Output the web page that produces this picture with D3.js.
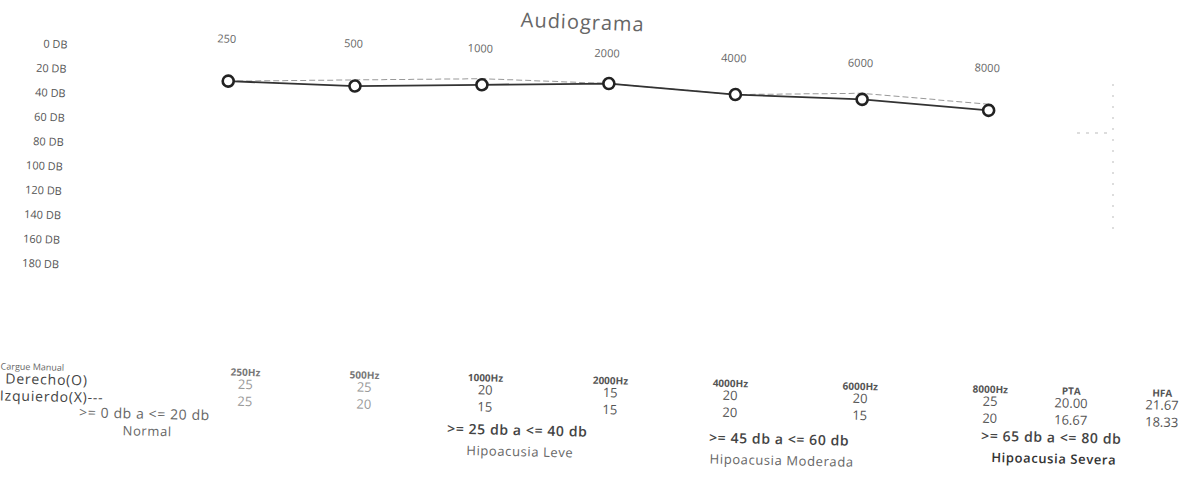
<!DOCTYPE html>
<html>
<head>
<meta charset="utf-8">
<script src="https://cdn.jsdelivr.net/npm/d3@7"></script>
<style>
  body { margin: 0; background: #fff; }
  svg { font-family: "Open Sans", "Noto Sans", sans-serif; }
</style>
</head>
<body>
<div id="chart" style="width:1185px;height:485px"></div>
<script>
// audiogram values (dB) per frequency
const frequencies = ["250", "500", "1000", "2000", "4000", "6000", "8000"];
const db_ticks = [0, 20, 40, 60, 80, 100, 120, 140, 160, 180];
const derecho = [25, 25, 20, 15, 20, 20, 25];
const izquierdo = [25, 20, 15, 15, 20, 15, 20];
const table_headers = ["250Hz", "500Hz", "1000Hz", "2000Hz", "4000Hz", "6000Hz", "8000Hz", "PTA", "HFA"];
const ranges = [">= 0 db a <= 20 db", ">= 25 db a <= 40 db", ">= 45 db a <= 60 db", ">= 65 db a <= 80 db"];
const range_names = ["Normal", "Hipoacusia Leve", "Hipoacusia Moderada", "Hipoacusia Severa"];

function audiogram(element_id) {
    const width = 1185, height = 485;
    d3.select(`#${element_id}`).selectAll("svg").remove();
    const svg = d3.select(`#${element_id}`)
        .append("svg")
        .attr("width", width)
        .attr("height", height);

    // the scanned sheet is a little tilted
    const chart = svg.append("g")
        .attr("transform", "rotate(2.2, 600, 250)");

    const x = d3.scalePoint()
        .domain(frequencies)
        .range([222, 983]);

    const y = d3.scaleLinear()
        .domain([0, 180])
        .range([65, 285]);

    chart.append("text")
        .attr("x", 574)
        .attr("y", 30)
        .attr("text-anchor", "middle")
        .attr("font-size", "20px")
        .attr("letter-spacing", "1px")
        .attr("fill", "#666")
        .text("Audiograma");

    chart.selectAll(".db-label")
        .data(db_ticks)
        .enter().append("text")
        .attr("class", "db-label")
        .attr("x", 60)
        .attr("y", d => y(d) + 4)
        .attr("text-anchor", "end")
        .attr("font-size", "11px")
        .attr("fill", "#555")
        .text(d => `${d} DB`);

    chart.selectAll(".freq-label")
        .data(frequencies)
        .enter().append("text")
        .attr("class", "freq-label")
        .attr("x", d => x(d) - 3)
        .attr("y", 57)
        .attr("text-anchor", "middle")
        .attr("font-size", "11px")
        .attr("fill", "#666")
        .text(d => d);

    const line = d3.line()
        .x((d, i) => x(frequencies[i]))
        .y(d => y(d));

    chart.append("path")
        .datum(izquierdo)
        .attr("fill", "none")
        .attr("stroke", "#999")
        .attr("stroke-width", 1)
        .attr("stroke-dasharray", "6,3")
        .attr("d", line);

    chart.append("path")
        .datum(derecho)
        .attr("fill", "none")
        .attr("stroke", "#333")
        .attr("stroke-width", 1.8)
        .attr("d", line);

    chart.selectAll(".dot")
        .data(derecho)
        .enter().append("circle")
        .attr("class", "dot")
        .attr("cx", (d, i) => x(frequencies[i]))
        .attr("cy", d => y(d))
        .attr("r", 5.5)
        .attr("fill", "#fff")
        .attr("stroke", "#222")
        .attr("stroke-width", 2.6);

    // faint dotted guide on the right edge of the scan
    svg.append("line")
        .attr("x1", 1113).attr("x2", 1113)
        .attr("y1", 84).attr("y2", 238)
        .attr("stroke", "#bbb")
        .attr("stroke-dasharray", "2,9");
    svg.append("line")
        .attr("x1", 1077).attr("x2", 1113)
        .attr("y1", 133).attr("y2", 133)
        .attr("stroke", "#bbb")
        .attr("stroke-dasharray", "3,6");

    // results table
    const table = svg.append("g")
        .attr("transform", "rotate(1.3, 600, 400)");

    const col_x = [245, 364, 485, 610, 730, 860, 990, 1071, 1162];
    const head_y = 384, right_y = 397, left_y = 414;

    const pta = [derecho, izquierdo].map(s => d3.mean(s.slice(1, 4)).toFixed(2));
    const hfa = [derecho, izquierdo].map(s => d3.mean(s.slice(4, 7)).toFixed(2));

    table.append("text")
        .attr("x", 0).attr("y", head_y - 1)
        .attr("font-size", "9px")
        .attr("fill", "#666")
        .text("Cargue Manual");

    table.selectAll(".head")
        .data(table_headers)
        .enter().append("text")
        .attr("class", "head")
        .attr("x", (d, i) => col_x[i])
        .attr("y", head_y)
        .attr("text-anchor", "middle")
        .attr("font-size", "10px")
        .attr("font-weight", 700)
        .attr("fill", (d, i) => i < 2 ? "#777" : "#555")
        .text(d => d);

    table.append("text")
        .attr("x", 5).attr("y", right_y)
        .attr("font-size", "14px")
        .attr("letter-spacing", "0.8px")
        .attr("fill", "#444")
        .text("Derecho(O)");
    table.append("text")
        .attr("x", 0).attr("y", left_y)
        .attr("font-size", "14px")
        .attr("letter-spacing", "0.8px")
        .attr("fill", "#444")
        .text("Izquierdo(X)---");

    const rows = [derecho.concat([pta[0], hfa[0]]), izquierdo.concat([pta[1], hfa[1]])];
    rows.forEach((row, r) => {
        table.selectAll(`.val-${r}`)
            .data(row)
            .enter().append("text")
            .attr("class", `val-${r}`)
            .attr("x", (d, i) => col_x[i])
            .attr("y", r === 0 ? right_y : left_y)
            .attr("text-anchor", "middle")
            .attr("font-size", "13px")
            .attr("fill", (d, i) => i < 2 ? "#999" : "#555")
            .text(d => d);
    });

    const range_x = [145, 518, 780, 1052];
    const range_y = [429, 437, 440, 432];
    const name_gap = [17, 21, 21, 21];
    table.selectAll(".range")
        .data(ranges)
        .enter().append("text")
        .attr("class", "range")
        .attr("x", (d, i) => range_x[i])
        .attr("y", (d, i) => range_y[i])
        .attr("text-anchor", "middle")
        .attr("font-size", "14px")
        .attr("letter-spacing", "0.6px")
        .attr("font-weight", (d, i) => i === 0 ? 400 : 600)
        .attr("fill", (d, i) => i === 0 ? "#666" : "#444")
        .text(d => d);

    table.selectAll(".range-name")
        .data(range_names)
        .enter().append("text")
        .attr("class", "range-name")
        .attr("x", (d, i) => range_x[i] + 3)
        .attr("y", (d, i) => range_y[i] + name_gap[i])
        .attr("text-anchor", "middle")
        .attr("font-size", "13px")
        .attr("letter-spacing", "0.6px")
        .attr("font-weight", (d, i) => i === 3 ? 600 : 400)
        .attr("fill", (d, i) => i === 3 ? "#333" : "#666")
        .text(d => d);
}

audiogram("chart");
</script>
</body>
</html>
